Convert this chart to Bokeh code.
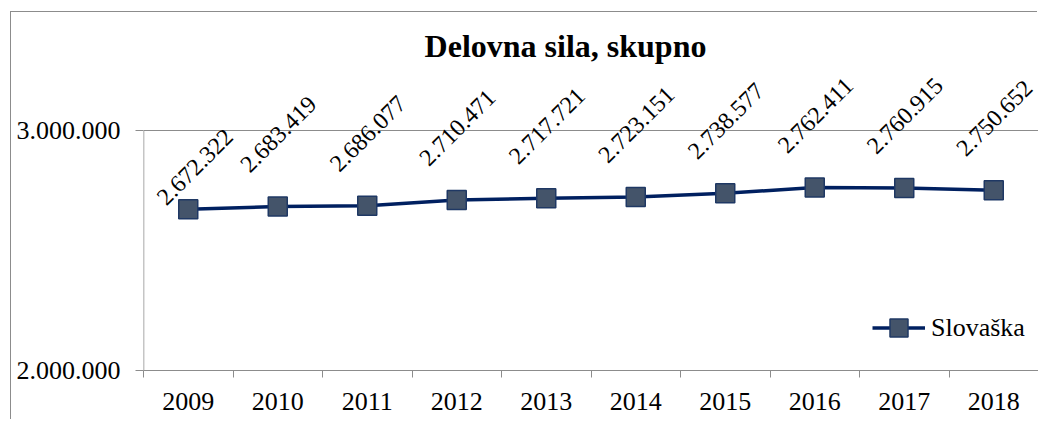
import math
from bokeh.plotting import figure
from bokeh.models import FixedTicker, Range1d, ColumnDataSource
from bokeh.core.properties import value
from bokeh.embed import file_html
from bokeh.resources import INLINE

# ---- data ----
years = ["2009", "2010", "2011", "2012", "2013", "2014", "2015", "2016", "2017", "2018"]
values = [2672322, 2683419, 2686077, 2710471, 2717721, 2723151, 2738577, 2762411, 2760915, 2750652]
y_ticks = [2000000, 3000000]
y_tick_labels = ["2.000.000", "3.000.000"]
chart_title = "Delovna sila, skupno"
series_name = "Slovaška"

# ---- styles / layout ----
FONT = "Liberation Serif"
GRID = "#8c8c8c"
LINE = "#002060"
MFILL = "#44546a"
MLINE = "#1f3864"
frame_h = 355          # px
px_per_unit = 240 / (y_ticks[1] - y_ticks[0])
y_end = y_ticks[0] + frame_h / px_per_unit
label_dx = [7] + [1] * 9
label_dy = [-42] + [-72] * 9

xs = [i + 0.5 for i in range(len(years))]
labels = [f"{v:,}".replace(",", ".") for v in values]
src = ColumnDataSource(dict(x=xs, y=values, lab=labels, dx=label_dx, dy=label_dy))

p = figure(width=1027, height=408, output_backend="svg", toolbar_location=None,
           x_range=Range1d(0, len(years)), y_range=Range1d(y_ticks[0], y_end),
           min_border_left=132, min_border_right=0, min_border_top=3, min_border_bottom=50,
           margin=(12, 0, 0, 11))
p.styles = {"box-shadow": "-1px -1px 0 0 #8c8c8c"}
p.outline_line_color = None
p.background_fill_color = "white"
p.border_fill_color = "white"

# x axis
xa = p.xaxis[0]
xa.ticker = FixedTicker(ticks=xs, minor_ticks=list(range(len(years) + 1)))
xa.major_label_overrides = {x: y for x, y in zip(xs, years)}
xa.major_tick_out = 0
xa.major_tick_in = 0
xa.minor_tick_out = 7
xa.minor_tick_in = 0
xa.minor_tick_line_color = GRID
xa.axis_line_color = GRID
xa.major_label_text_font = FONT
xa.major_label_text_font_size = "26px"
xa.major_label_text_color = "black"
xa.major_label_standoff = 15

# y axis
ya = p.yaxis[0]
ya.ticker = FixedTicker(ticks=y_ticks, minor_ticks=[])
ya.major_label_overrides = {t: l for t, l in zip(y_ticks, y_tick_labels)}
ya.major_tick_out = 8
ya.major_tick_in = 0
ya.major_tick_line_color = GRID
ya.axis_line_color = None
ya.major_label_text_font = FONT
ya.major_label_text_font_size = "26px"
ya.major_label_text_color = "black"
ya.major_label_standoff = 15

p.xgrid.visible = False
p.ygrid.ticker = FixedTicker(ticks=y_ticks)
p.ygrid.grid_line_color = GRID
p.ygrid.grid_line_width = 1

# y axis line only between the ticks
p.segment(x0=[0], y0=[y_ticks[0]], x1=[0], y1=[y_ticks[1]], line_color=GRID, line_width=1.5)

# series
p.line("x", "y", source=src, line_color=LINE, line_width=3.5, legend_label=series_name)
p.scatter("x", "y", source=src, marker="square", size=19, fill_color=MFILL,
          line_color=MLINE, line_width=1.5, legend_label=series_name)

# data labels
p.text("x", "y", text="lab", source=src, angle=math.pi / 4, x_offset="dx", y_offset="dy",
       text_align="center", text_baseline="middle", text_font=value(FONT),
       text_font_size="24px", text_color="black")

# title
p.text(x=[0], y=[y_ticks[1]], text=[chart_title], x_offset=422, y_offset=-85,
       text_align="center", text_baseline="alphabetic", text_font=value(FONT),
       text_font_size="32px", text_font_style="bold", text_color="black")

# legend
lg = p.legend[0]
lg.location = (729, 20)
lg.padding = 0
lg.margin = 0
lg.spacing = 0
lg.border_line_color = None
lg.background_fill_alpha = 0
lg.glyph_width = 53
lg.glyph_height = 45
lg.label_height = 45
lg.label_standoff = 6
lg.label_text_font = FONT
lg.label_text_font_size = "26px"
lg.label_text_color = "black"

open("out.html", "w").write(file_html(p, INLINE))
